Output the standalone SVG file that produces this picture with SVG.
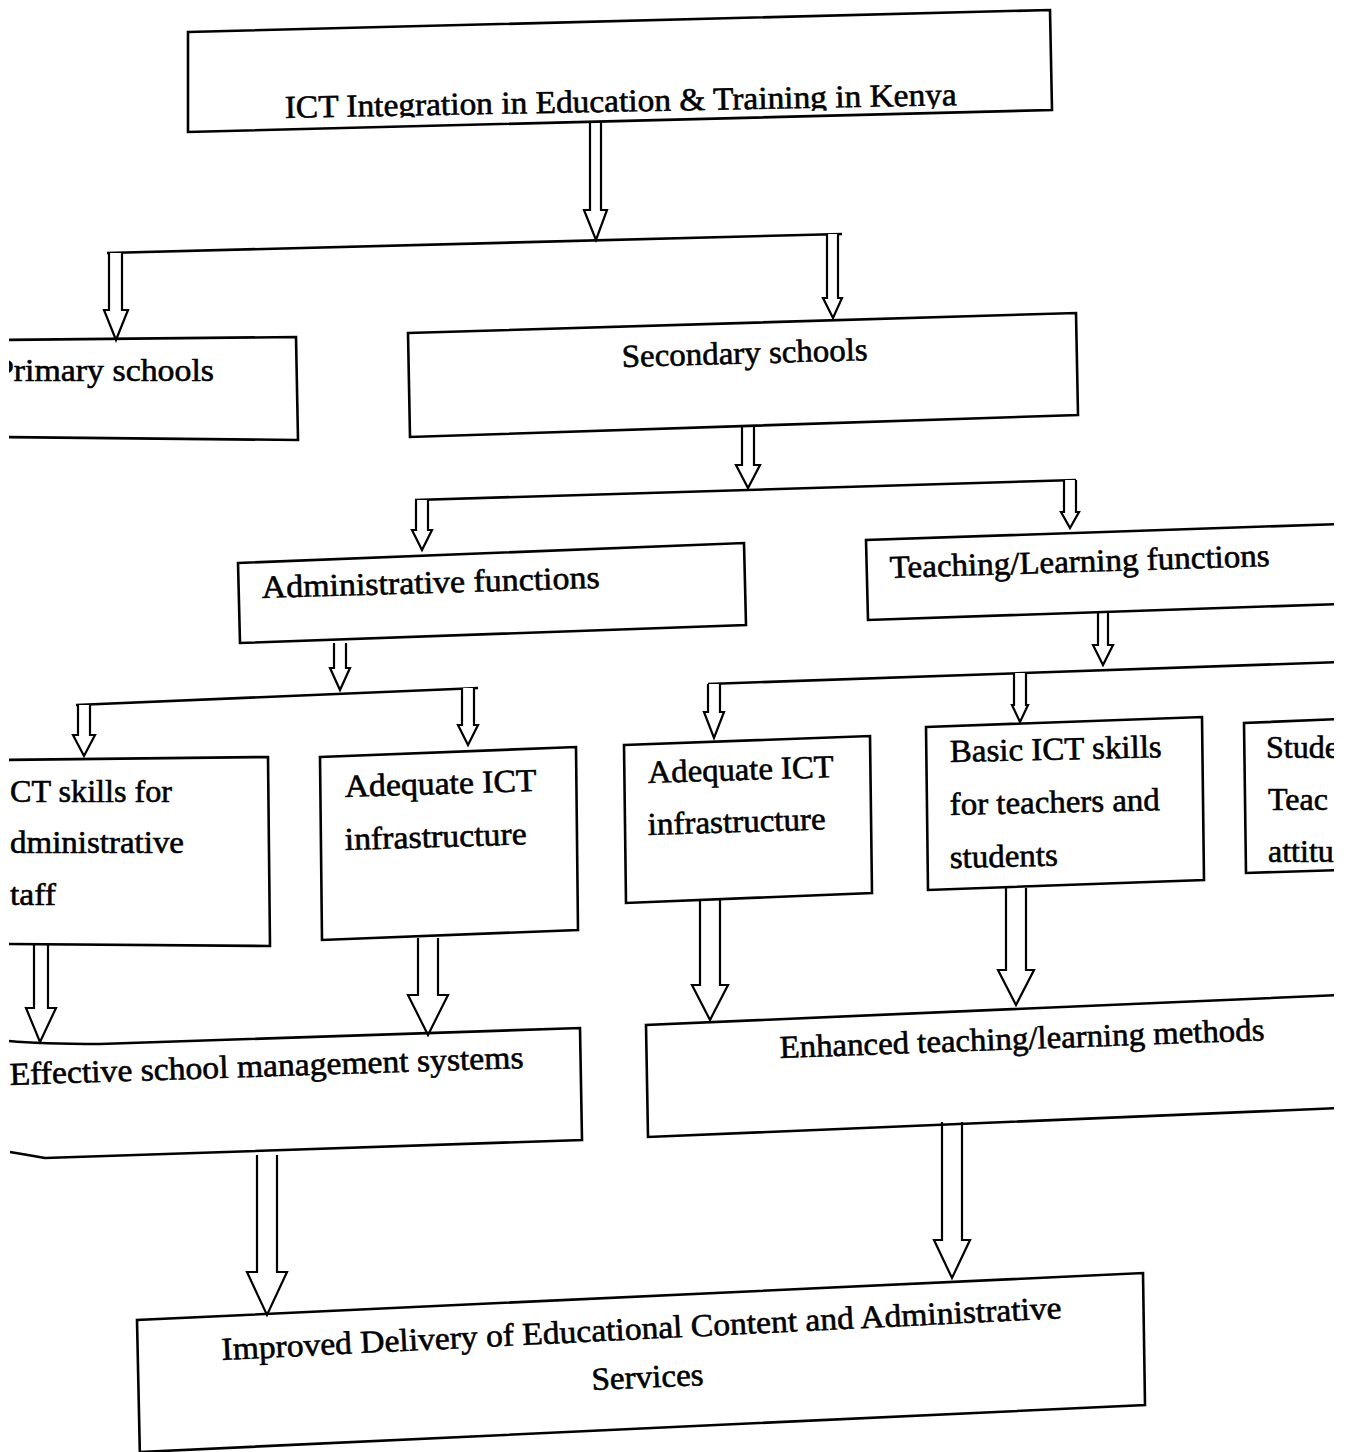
<svg xmlns="http://www.w3.org/2000/svg" width="1348" height="1452" viewBox="0 0 1348 1452">
<style>
.box{fill:none;stroke:#000;stroke-width:2.6;stroke-linejoin:miter}
.ln{fill:none;stroke:#000;stroke-width:2.6}
.ar{fill:#fff;stroke:#000;stroke-width:2.2;stroke-linejoin:miter}
text{font-family:"Liberation Serif","Times New Roman",serif;font-size:32px;fill:#000;stroke:#000;stroke-width:0.6}
</style>
<defs>
<clipPath id="page"><rect x="9" y="0" width="1325" height="1452"/></clipPath>
<clipPath id="titleclip"><polygon points="188,0 1052,0 1052,107 188,121"/></clipPath>
</defs>
<rect x="0" y="0" width="1348" height="1452" fill="#fff"/>
<g clip-path="url(#page)">
<g id="connectors">
<path class="ln" d="M107,253 L842,234"/>
<path class="ln" d="M415,500 L1076,480"/>
<path class="ln" d="M76,705 L478,688"/>
<path class="ln" d="M708,684 L1340,662"/>
<path class="ar" d="M590,122 L590,210 L584,210 L596,240 L607,210 L601,210 L601,122"/>
<path class="ar" d="M109,253 L109,310 L104,310 L116,340 L128,310 L122,310 L122,253"/>
<path class="ar" d="M827,234 L827,298 L823,298 L833,318 L842,298 L838,298 L838,234"/>
<path class="ar" d="M742,425 L742,465 L736,465 L748,488 L760,465 L754,465 L754,425"/>
<path class="ar" d="M416,500 L416,530 L412,530 L422,550 L432,530 L428,530 L428,500"/>
<path class="ar" d="M1064,480 L1064,512 L1061,512 L1070,528 L1079,512 L1076,512 L1076,480"/>
<path class="ar" d="M334,643 L334,668 L330,668 L340,690 L350,668 L346,668 L346,643"/>
<path class="ar" d="M78,705 L78,735 L73,735 L84,756 L95,735 L90,735 L90,705"/>
<path class="ar" d="M462,688 L462,725 L458,725 L468,745 L478,725 L474,725 L474,688"/>
<path class="ar" d="M1098,612 L1098,645 L1093,645 L1103,665 L1113,645 L1108,645 L1108,612"/>
<path class="ar" d="M708,684 L708,712 L704,712 L714,738 L724,712 L720,712 L720,684"/>
<path class="ar" d="M1014,673 L1014,705 L1012,705 L1020,722 L1028,705 L1026,705 L1026,673"/>
<path class="ar" d="M34,945 L34,1008 L26,1008 L40,1042 L56,1008 L48,1008 L48,945"/>
<path class="ar" d="M418,938 L418,995 L408,995 L428,1035 L448,995 L438,995 L438,938"/>
<path class="ar" d="M700,900 L700,985 L692,985 L710,1020 L728,985 L720,985 L720,900"/>
<path class="ar" d="M1006,888 L1006,970 L998,970 L1016,1005 L1034,970 L1026,970 L1026,888"/>
<path class="ar" d="M257,1155 L257,1272 L247,1272 L267,1315 L287,1272 L277,1272 L277,1155"/>
<path class="ar" d="M942,1122 L942,1240 L934,1240 L952,1278 L970,1240 L962,1240 L962,1122"/>
</g>
<g id="node-title">
<path class="box" d="M188,32 L1050,10 L1052,110 L188,132 Z"/>
<g clip-path="url(#titleclip)">
<text x="285" y="118" textLength="672" lengthAdjust="spacingAndGlyphs" transform="rotate(-1.1 285 118)">ICT Integration in Education &amp; Training in Kenya</text>
</g>
</g>
<g id="node-primary">
<path class="box" d="M0,340 L296,337 L298,440 L0,437"/>
<text x="-5" y="381" textLength="219" lengthAdjust="spacingAndGlyphs">Primary schools</text>
</g>
<g id="node-secondary">
<path class="box" d="M408,333 L1076,313 L1078,415 L410,437 Z"/>
<text x="622" y="367" textLength="246" lengthAdjust="spacingAndGlyphs" transform="rotate(-1.6 622 367)">Secondary schools</text>
</g>
<g id="node-admin">
<path class="box" d="M238,563 L744,543 L746,625 L240,643 Z"/>
<text x="262" y="598" textLength="338" lengthAdjust="spacingAndGlyphs" transform="rotate(-1.7 262 598)">Administrative functions</text>
</g>
<g id="node-teaching">
<path class="box" d="M1340,524 L866,540 L868,620 L1340,604"/>
<text x="890" y="578" textLength="380" lengthAdjust="spacingAndGlyphs" transform="rotate(-1.8 890 578)">Teaching/Learning functions</text>
</g>
<g id="node-ict-skills-admin">
<path class="box" d="M0,760 L268,757 L270,946 L0,944"/>
<text x="10" y="802" textLength="162" lengthAdjust="spacingAndGlyphs">CT skills for</text>
<text x="10" y="853" textLength="174" lengthAdjust="spacingAndGlyphs">dministrative</text>
<text x="10" y="905" textLength="46" lengthAdjust="spacingAndGlyphs">taff</text>
</g>
<g id="node-infra-admin">
<path class="box" d="M320,757 L576,747 L578,930 L322,940 Z"/>
<text x="345" y="797" textLength="192" lengthAdjust="spacingAndGlyphs" transform="rotate(-1.8 345 797)">Adequate ICT</text>
<text x="345" y="850" textLength="182" lengthAdjust="spacingAndGlyphs" transform="rotate(-1.8 345 850)">infrastructure</text>
</g>
<g id="node-infra-teach">
<path class="box" d="M624,745 L870,736 L872,893 L626,903 Z"/>
<text x="648" y="783" textLength="186" lengthAdjust="spacingAndGlyphs" transform="rotate(-1.8 648 783)">Adequate ICT</text>
<text x="648" y="835" textLength="178" lengthAdjust="spacingAndGlyphs" transform="rotate(-1.8 648 835)">infrastructure</text>
</g>
<g id="node-basic-skills">
<path class="box" d="M926,727 L1202,717 L1204,880 L928,890 Z"/>
<text x="950" y="762" textLength="212" lengthAdjust="spacingAndGlyphs" transform="rotate(-1.3 950 762)">Basic ICT skills</text>
<text x="950" y="815" textLength="210" lengthAdjust="spacingAndGlyphs" transform="rotate(-1.3 950 815)">for teachers and</text>
<text x="950" y="868" textLength="108" lengthAdjust="spacingAndGlyphs" transform="rotate(-1.3 950 868)">students</text>
</g>
<g id="node-attitudes">
<path class="box" d="M1340,719 L1244,723 L1246,873 L1340,870"/>
<text x="1266" y="758">Stude</text>
<text x="1268" y="810">Teac</text>
<text x="1268" y="862">attitu</text>
</g>
<g id="node-management">
<path class="box" d="M0,1040 Q30,1044 100,1044 L580,1028 L582,1140 L45,1158 Q28,1155 10,1152"/>
<text x="10" y="1085" textLength="514" lengthAdjust="spacingAndGlyphs" transform="rotate(-1.9 10 1085)">Effective school management systems</text>
</g>
<g id="node-methods">
<path class="box" d="M1340,995 L646,1025 L648,1137 L1340,1108"/>
<text x="780" y="1058" textLength="485" lengthAdjust="spacingAndGlyphs" transform="rotate(-2.1 780 1058)">Enhanced teaching/learning methods</text>
</g>
<g id="node-outcome">
<path class="box" d="M140,1460 L137,1320 L1143,1273 L1145,1405 L140,1452"/>
<text x="222" y="1360" textLength="841" lengthAdjust="spacingAndGlyphs" transform="rotate(-2.85 222 1360)">Improved Delivery of Educational Content and Administrative</text>
<text x="592" y="1390" textLength="112" lengthAdjust="spacingAndGlyphs" transform="rotate(-2.5 592 1390)">Services</text>
</g>
</g>
</svg>
